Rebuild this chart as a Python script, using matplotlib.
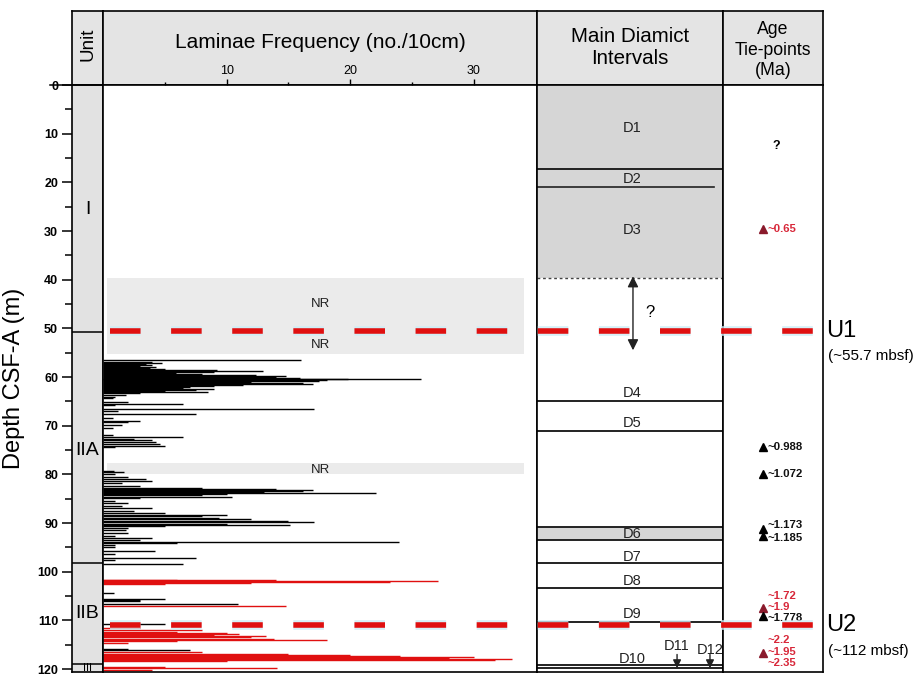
import matplotlib
matplotlib.use("Agg")
import matplotlib.pyplot as plt
from matplotlib.lines import Line2D

plt.rcParams['font.family'] = ['Liberation Sans', 'DejaVu Sans']
plt.rcParams['lines.scale_dashes'] = False

# ---------------- data ----------------
depth_max = 120.6

# laminae frequency (no./10cm): Unit IIA (black) and Unit IIB (red) records
black_depth = [56.6, 56.9, 57.1, 57.3, 57.5, 57.7, 57.9, 58.1, 58.3, 58.5, 58.7, 58.9,
               59.1, 59.3, 59.5, 59.7, 59.9, 60.1, 60.3, 60.5, 60.7, 60.9, 61.1, 61.3,
               61.5, 61.7, 61.9, 62.1, 62.3, 62.5, 62.7, 62.9, 63.1, 63.3, 63.6, 64.0,
               64.4, 65.2, 65.5, 65.8, 66.6, 67.0, 67.5, 68.5, 69.0, 69.3, 69.8, 70.4,
               72.0, 72.4, 72.7, 73.0, 73.3, 73.7, 74.1, 74.4, 79.3, 79.6, 80.0, 80.5,
               80.9, 81.3, 81.7, 82.4, 82.7, 83.0, 83.2, 83.4, 83.6, 83.8, 84.0, 84.3,
               84.6, 84.9, 85.4, 85.9, 86.5, 87.0, 87.6, 88.0, 88.3, 88.6, 88.9, 89.2,
               89.5, 89.8, 90.1, 90.3, 90.6, 91.0, 91.5, 92.0, 92.6, 93.0, 93.5, 93.8,
               94.1, 94.5, 95.0, 95.8, 96.4, 97.2, 97.6, 98.4,
               104.4, 105.5, 105.8, 106.1, 106.6, 110.8, 115.8, 116.0]
black_freq = [16.0, 4.0, 4.8, 3.5, 4.0, 3.0, 4.3, 3.8, 5.0, 9.2, 12.9, 9.0,
              5.9, 8.0, 12.4, 14.8, 14.0, 15.9, 19.8, 25.7, 18.1, 17.5, 12.0, 16.2,
              17.0, 11.3, 9.0, 7.0, 6.5, 9.0, 7.5, 5.0, 8.5, 3.0, 1.9, 1.0,
              0.8, 2.0, 6.5, 1.0, 17.1, 1.2, 7.5, 0.8, 3.0, 2.0, 1.5, 0.8,
              0.8, 6.5, 2.5, 4.0, 4.3, 4.6, 5.0, 1.0, 0.9, 1.7, 1.0, 2.0,
              3.5, 4.0, 1.5, 3.0, 8.0, 14.0, 17.0, 16.2, 13.0, 22.1, 10.0, 8.0,
              10.4, 3.0, 1.0, 2.0, 1.5, 4.0, 2.5, 5.0, 10.0, 8.0, 9.4, 12.0,
              15.0, 17.1, 10.0, 15.1, 5.0, 2.0, 1.9, 2.0, 1.0, 4.0, 3.0, 23.9,
              6.0, 1.0, 1.0, 4.2, 1.0, 7.5, 1.0, 6.5,
              0.9, 5.0, 3.0, 3.0, 10.9, 5.0, 2.0, 7.0]

red_depth = [101.6, 101.8, 102.0, 102.2, 102.4, 102.6, 107.1, 111.5, 112.0, 112.3,
             112.5, 112.8, 113.0, 113.2, 113.5, 113.8, 114.0, 114.3, 114.6, 116.5,
             116.8, 117.1, 117.4, 117.6, 117.8, 118.0, 118.2, 118.4, 119.6, 119.8,
             120.1]
red_freq = [6.0, 14.0, 27.1, 23.2, 12.0, 5.0, 14.8, 3.0, 8.0, 6.0,
            10.0, 11.0, 9.0, 13.2, 12.0, 13.8, 18.1, 6.0, 2.0, 8.0,
            15.0, 20.0, 24.0, 30.0, 28.0, 33.1, 31.7, 10.0, 5.0, 14.1,
            4.0]

# intervals not recovered (top, bottom) and NR label depths
nr_intervals = [(39.6, 55.2), (77.7, 80.0)]
nr_label_depths = [45.0, 53.5, 79.0]

# lithostratigraphic units
unit_bounds = [50.8, 98.2, 118.9]
unit_names = ['I', 'IIA', 'IIB', 'III']
unit_label_depths = [25.5, 75.0, 108.5, 119.75]
unit_label_sizes = [14, 14, 14, 8]

# main diamict intervals
diamict_shaded = [(0.0, 39.6), (90.8, 93.4)]
diamict_lines = [17.2, 64.9, 71.0, 90.8, 93.4, 98.2, 103.3, 110.3, 119.1, 119.8]
diamict_names = ['D1', 'D2', 'D3', 'D4', 'D5', 'D6', 'D7', 'D8', 'D9', 'D10']
diamict_label_depths = [8.8, 19.3, 29.8, 63.3, 69.4, 92.3, 96.9, 102.0, 108.6, 117.9]

# age tie-points (Ma)
tie_depths = [29.6, 74.3, 79.9, 91.3, 92.6, 107.4, 109.0, 116.6]
tie_red = [True, False, False, False, False, True, False, True]
age_labels = ['~0.65', '~0.988', '~1.072', '~1.173', '~1.185', '~1.72', '~1.9',
              '~1.778', '~2.2', '~1.95', '~2.35']
age_label_depths = [29.6, 74.3, 79.9, 90.5, 93.0, 104.9, 107.2, 109.5, 114.0, 116.4, 118.7]
age_label_red = [True, False, False, False, False, True, True, False, True, True, True]

# unconformities
u_names = ['U1', 'U2']
u_depths = [50.5, 111.0]
u_notes = ['(~55.7 mbsf)', '(~112 mbsf)']

# ---------------- layout ----------------
W, H = 918, 676
fig = plt.figure(figsize=(W / 100, H / 100), dpi=100)
fig.patch.set_facecolor('white')

top_px, bot_px, head_top_px = 85, 672, 11
cols = {'unit': (72, 103), 'lam': (103, 537), 'dia': (537, 723), 'age': (723, 823)}


def rect(x0, x1, y0, y1):
    return [x0 / W, 1 - y1 / H, (x1 - x0) / W, (y1 - y0) / H]


HEAD_BG = '#e4e4e4'
RED = '#e01010'
DARKRED = '#8a1a2c'
TXTRED = '#d8283a'

heads = {}
for key, (x0, x1) in cols.items():
    hx = fig.add_axes(rect(x0, x1, head_top_px, top_px))
    hx.set_facecolor(HEAD_BG)
    hx.set_xticks([]); hx.set_yticks([])
    for s in hx.spines.values():
        s.set_linewidth(1.2)
    heads[key] = hx

heads['unit'].text(0.5, 0.55, 'Unit', rotation=90, ha='center', va='center', fontsize=13.5)
heads['lam'].text(0.5, 0.58, 'Laminae Frequency (no./10cm)', ha='center', va='center', fontsize=15)
heads['dia'].text(0.5, 0.5, 'Main Diamict\nIntervals', ha='center', va='center', fontsize=14.8,
                  linespacing=1.2)
heads['age'].text(0.5, 0.47, 'Age\nTie-points\n(Ma)', ha='center', va='center', fontsize=12.7,
                  linespacing=1.25)

axes = {}
for key, (x0, x1) in cols.items():
    ax = fig.add_axes(rect(x0, x1, top_px, bot_px))
    ax.set_ylim(depth_max, 0)
    for s in ax.spines.values():
        s.set_linewidth(1.2)
    axes[key] = ax

# ---- unit column ----
axu = axes['unit']
axu.set_facecolor('#e2e2e2')
axu.set_xlim(0, 1)
axu.set_xticks([])
axu.set_yticks(range(0, 121, 10))
axu.set_yticks(range(5, 121, 10), minor=True)
axu.tick_params(axis='y', which='major', length=7, width=1.1, labelsize=9, pad=3)
axu.tick_params(axis='y', which='minor', length=5, width=1.1)
for lab in axu.get_yticklabels():
    lab.set_fontweight('bold')
axu.set_ylabel('Depth CSF-A (m)', fontsize=17, labelpad=9)
axu.add_line(Line2D([-0.7, 1.0], [0, 0], color='black', lw=1.1, clip_on=False))
for d in unit_bounds:
    axu.axhline(d, color='black', lw=1.1)
for name, d, fs in zip(unit_names, unit_label_depths, unit_label_sizes):
    axu.text(0.5, d, name, ha='center', va='center', fontsize=fs)

# ---- laminae frequency column ----
axl = axes['lam']
axl.set_xlim(0, 35.1)
axl.xaxis.tick_top()
axl.set_xticks([10, 20, 30])
axl.set_xticks([5, 15, 25], minor=True)
axl.tick_params(axis='x', which='major', direction='out', length=4, width=1.0, labelsize=9, pad=2)
axl.tick_params(axis='x', which='minor', direction='out', length=2, width=1.0)
axl.set_yticks([])
for t, b in nr_intervals:
    axl.axhspan(t, b, xmin=0.01, xmax=0.97, color='#ebebeb', lw=0, zorder=0)
for d in nr_label_depths:
    axl.text(17.6, d, 'NR', ha='center', va='center', fontsize=9.5, color='#222222')
axl.hlines(black_depth, 0, black_freq, color='black', lw=1.0, zorder=2)
axl.hlines(red_depth, 0, red_freq, color=RED, lw=1.0, zorder=2)

# ---- diamict column ----
axd = axes['dia']
axd.set_xlim(0, 1)
axd.set_xticks([]); axd.set_yticks([])
for t, b in diamict_shaded:
    axd.axhspan(t, b, color='#d6d6d6', lw=0, zorder=0)
for d in diamict_lines:
    axd.axhline(d, color='#222222', lw=1.4)
axd.axhline(21.0, xmax=0.95, color='#222222', lw=1.2)
axd.axhline(39.6, color='#444444', lw=1.0, ls=(0, (2, 2)))
for name, d in zip(diamict_names, diamict_label_depths):
    axd.text(0.51, d, name, ha='center', va='center', fontsize=10.5, color='#222222')
axd.annotate('', xy=(0.516, 39.3), xytext=(0.516, 54.5),
             arrowprops=dict(arrowstyle='<|-|>', color='#222222', lw=1.0,
                             mutation_scale=16, shrinkA=0, shrinkB=0))
axd.text(0.61, 46.8, '?', ha='center', va='center', fontsize=12)
for name, x, dl in [('D11', 0.753, 115.3), ('D12', 0.93, 116.1)]:
    axd.text(x, dl, name, ha='center', va='center', fontsize=10.5, color='#222222')
    axd.annotate('', xy=(x, 119.8), xytext=(x, 117.0),
                 arrowprops=dict(arrowstyle='-|>', color='#222222', lw=1.0,
                                 mutation_scale=12, shrinkA=0, shrinkB=0))

# ---- age tie-point column ----
axa = axes['age']
axa.set_xlim(0, 1)
axa.set_xticks([]); axa.set_yticks([])
axa.text(0.53, 12.5, '?', ha='center', va='center', fontsize=9, fontweight='bold')
for d, is_red in zip(tie_depths, tie_red):
    axa.plot(0.40, d, marker='^', ms=6, color=DARKRED if is_red else 'black', ls='none')
for txt, d, is_red in zip(age_labels, age_label_depths, age_label_red):
    axa.text(0.45, d, txt, ha='left', va='center', fontsize=8.2, fontweight='bold',
             color=TXTRED if is_red else '#111111')

# ---- unconformities across the panels ----
axo = fig.add_axes(rect(103, 823, top_px, bot_px))
axo.set_ylim(depth_max, 0)
axo.set_xlim(0, 1)
axo.axis('off')
for name, d, note in zip(u_names, u_depths, u_notes):
    axo.hlines(d, 0.01, 1.0, color='#cdeef7', lw=7, linestyles=[(0, (22, 22))], alpha=0.8)
    axo.hlines(d, 0.01, 1.0, color=RED, lw=4, linestyles=[(0, (22, 22))])
    axo.text(1.005, d, name, ha='left', va='center', fontsize=17, clip_on=False)
    axo.text(1.007, d + 5.2, note, ha='left', va='center', fontsize=11, clip_on=False)

fig.savefig('out.png', dpi=100)
